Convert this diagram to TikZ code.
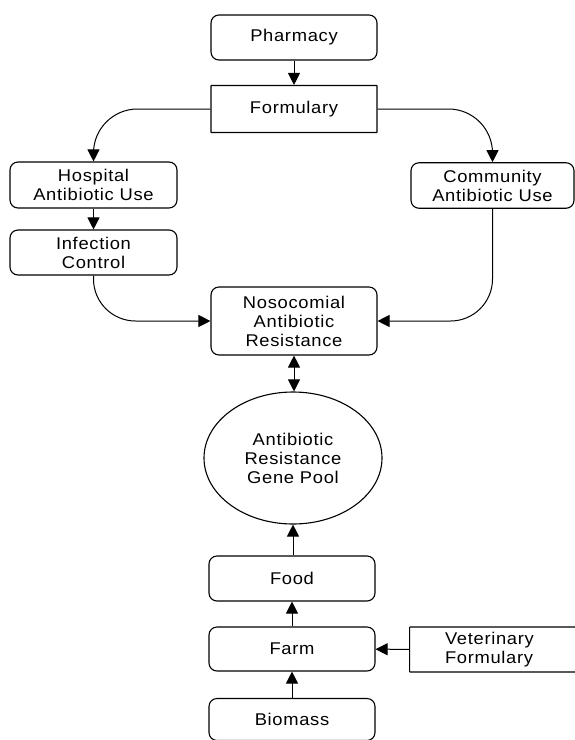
\documentclass[tikz,border=0pt]{standalone}
\usepackage{fontspec}
\setmainfont{Liberation Sans}[FakeStretch=1.08,LetterSpace=4]
\usetikzlibrary{arrows.meta,shapes.geometric}
\tikzset{
  every node/.style={font=\fontsize{17}{19}\selectfont},
  rbox/.style={draw,line width=1.1pt,rounded corners=8pt,minimum width=166pt,minimum height=45pt,align=center,inner sep=2pt},
  sbox/.style={draw,line width=1.1pt,rounded corners=0.5pt,minimum width=166pt,minimum height=47pt,align=center,inner sep=2pt},
  pool/.style={draw,line width=1.1pt,ellipse,minimum width=178pt,minimum height=132pt,inner sep=0pt,align=center},
  arr/.style={line width=1pt,-{Triangle[length=12pt,width=12pt]}},
  darr/.style={line width=1pt,{Triangle[length=12pt,width=12pt]}-{Triangle[length=12pt,width=12pt]}}
}
\begin{document}
\begin{tikzpicture}[x=1pt,y=-1pt]
\useasboundingbox (0,0) rectangle (575,740);
\node[rbox] (pharm) at (294,37.5) {Pharmacy};
\node[sbox] (form) at (294,109) {Formulary};
\node[rbox,minimum width=167pt,minimum height=46pt] (hosp) at (93.5,185) {Hospital\\Antibiotic Use};
\node[rbox,minimum width=167pt] (inf) at (93.5,252.5) {Infection\\Control};
\node[rbox,minimum width=163pt,minimum height=45.5pt] (comm) at (492.5,185.5) {Community\\Antibiotic Use};
\node[rbox,minimum height=68pt] (noso) at (294,321) {Nosocomial\\Antibiotic\\Resistance};
\node[pool] (pool) at (293,458) {Antibiotic\\Resistance\\Gene Pool};
\node[rbox] (food) at (292,578.5) {Food};
\node[rbox,minimum height=44pt] (farm) at (292,649) {Farm};
\node[rbox,minimum height=42pt] (bio) at (292,719.5) {Biomass};
\node[sbox,anchor=west,minimum width=171pt,minimum height=45pt,text width=100pt,align=left] (vet) at (409,649.5) {Veterinary\\Formulary};
\draw[arr] (pharm) -- (form);
\draw[arr,rounded corners=44pt] (form.west) -| (hosp.north);
\draw[arr,rounded corners=44pt] (form.east) -| (comm.north);
\draw[arr] (hosp) -- (inf);
\draw[arr,rounded corners=42pt] (inf.south) |- (noso.west);
\draw[arr,rounded corners=42pt] (comm.south) |- (noso.east);
\draw[darr] (noso.south) -- (noso.south |- pool.north);
\draw[arr] (food.north -| pool.south) -- (pool.south);
\draw[arr] (farm) -- (food);
\draw[arr] (bio) -- (farm);
\draw[arr] (vet) -- (farm);
\end{tikzpicture}
\end{document}
